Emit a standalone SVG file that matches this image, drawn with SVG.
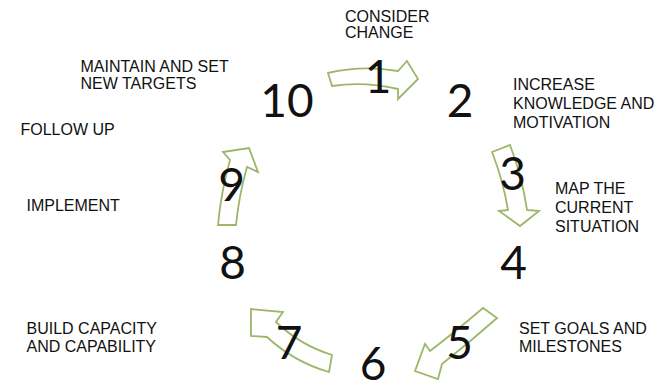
<svg xmlns="http://www.w3.org/2000/svg" width="666" height="390" viewBox="0 0 666 390">
<style>
.lbl{font-family:"Liberation Sans",Arial,sans-serif;font-size:16px;fill:#111}
.num{font-family:Lato,"Open Sans",sans-serif;font-size:46px;fill:#111;text-anchor:middle}
.arr{fill:#fff;stroke:#9db769;stroke-width:1.8;stroke-linejoin:miter}
</style>
<rect width="666" height="390" fill="#fff"/>
<g id="connectors">
<path id="a1" class="arr" d="M328,73 Q362,65 398,71 L407,61 L418,79 L398,99 L398,89 Q364,81 332,86 Z"/>
<path id="a3" class="arr" d="M492,152 L510,145 Q522,176 527,210 L539,211 L520,226 L499,211 L508,210 Q503,180 492,152 Z"/>
<path id="a5" class="arr" d="M483,308 Q455,332 430,351 L425,344 L415,371 L438,379 L442,364 Q470,342 497,318 Z"/>
<path id="a7" class="arr" d="M332,355 Q300,345 276,322 L283,312 L251,309 L251,336 L267,337 Q294,362 329,372 Z"/>
<path id="a9" class="arr" d="M218,225 L236,225 Q239,195 247,167 L258,172 L249,148 L223,152 L230,160 Q221,192 218,225 Z"/>
</g>
<g id="n1"><text class="num" x="378" y="93">1</text><text class="lbl" x="345" y="21.7">CONSIDER</text><text class="lbl" x="345" y="37.7">CHANGE</text></g>
<g id="n2"><text class="num" x="460" y="117">2</text><text class="lbl" x="513" y="90">INCREASE</text><text class="lbl" x="513" y="109.3">KNOWLEDGE AND</text><text class="lbl" x="513" y="128.3">MOTIVATION</text></g>
<g id="n3"><text class="num" x="512.5" y="190">3</text><text class="lbl" x="555" y="193.5">MAP THE</text><text class="lbl" x="555" y="212.7">CURRENT</text><text class="lbl" x="555" y="231.5">SITUATION</text></g>
<g id="n4"><text class="num" x="513.5" y="279">4</text></g>
<g id="n5"><text class="num" x="459.5" y="359">5</text><text class="lbl" x="519" y="333.5">SET GOALS AND</text><text class="lbl" x="519" y="352">MILESTONES</text></g>
<g id="n6"><text class="num" x="373" y="380">6</text></g>
<g id="n7"><text class="num" x="289" y="359">7</text><text class="lbl" x="26.5" y="334">BUILD CAPACITY</text><text class="lbl" x="26.5" y="352.3">AND CAPABILITY</text></g>
<g id="n8"><text class="num" x="232.5" y="279">8</text><text class="lbl" x="26.5" y="211">IMPLEMENT</text></g>
<g id="n9"><text class="num" x="231.5" y="201">9</text><text class="lbl" x="20.5" y="135">FOLLOW UP</text></g>
<g id="n10"><text class="num" x="287" y="117">10</text><text class="lbl" x="80.5" y="71.7">MAINTAIN AND SET</text><text class="lbl" x="80.5" y="89.3">NEW TARGETS</text></g>
</svg>
